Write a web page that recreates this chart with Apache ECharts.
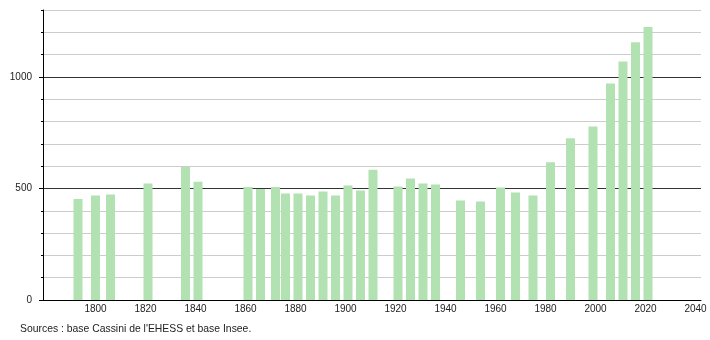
<!DOCTYPE html>
<html><head><meta charset="utf-8">
<script src="https://cdn.jsdelivr.net/npm/echarts@6/dist/echarts.min.js"></script>
<style>html,body{margin:0;padding:0;background:#fff}#c{width:710px;height:340px}</style>
</head><body><div id="c"></div>
<script>
var years = [1793,1800,1806,1821,1836,1841,1861,1866,1872,1876,1881,1886,1891,1896,1901,1906,1911,1921,1926,1931,1936,1946,1954,1962,1968,1975,1982,1990,1999,2006,2011,2016,2021];
var population = [453,468,473,522,596,530,507,498,507,477,477,468,486,468,513,491,584,509,545,522,518,446,441,504,482,468,617,725,778,971,1069,1155,1224];
var xTickLabels = [1800,1820,1840,1860,1880,1900,1920,1940,1960,1980,2000,2020,2040];
var yMajorLabels = [0,500,1000];
var sourceText = "Sources : base Cassini de l'EHESS et base Insee.";

var data = years.map(function(y,i){return [y, population[i]];});
var chart = echarts.init(document.getElementById('c'), null, {renderer:'canvas'});
var font = 'Liberation Sans, Arial, sans-serif';
chart.setOption({
  animation:false,
  backgroundColor:'#fff',
  grid:{left:43,right:9,top:10,bottom:40,containLabel:false},
  graphic:[{type:'text',left:20,top:324,style:{text:sourceText,font:'10.4px '+font,fill:'#222'}}],
  xAxis:{type:'value',min:1779,max:2042.2,
    axisLine:{show:true,onZero:false,lineStyle:{color:'#000',width:1}},
    axisTick:{show:false},
    splitLine:{show:false},
    axisLabel:{customValues:xTickLabels,color:'#222',fontSize:10,fontFamily:font,margin:4,formatter:function(v){return String(v);}}
  },
  yAxis:[{type:'value',min:0,max:1300,interval:100,
    axisLine:{show:true,lineStyle:{color:'#000',width:1}},
    axisTick:{show:true,length:2,lineStyle:{color:'#000'}},
    axisLabel:{color:'#222',fontSize:10,fontFamily:font,margin:11,formatter:function(v){return yMajorLabels.indexOf(v)>=0?String(v):'';}},
    splitLine:{show:true,lineStyle:{color:['#333','#ccc','#ccc','#ccc','#ccc'],width:1}}
  },{type:'value',min:0,max:1300,position:'left',
    axisLine:{show:false},
    axisTick:{show:true,length:4,customValues:yMajorLabels,lineStyle:{color:'#000'}},
    axisLabel:{show:false},
    splitLine:{show:false}
  }],
  series:[{type:'bar',data:data,barWidth:9,yAxisIndex:0,itemStyle:{color:'#b2e2b2'}}]
});
</script></body></html>
